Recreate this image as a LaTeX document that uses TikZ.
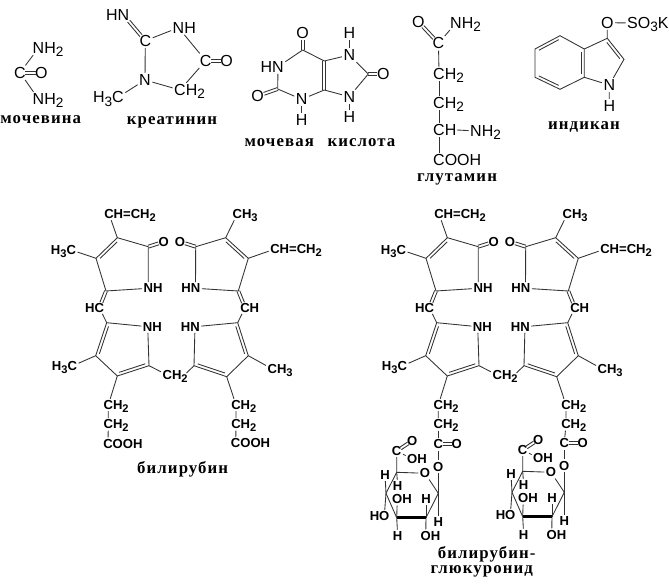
\documentclass[tikz,border=0pt]{standalone}
\usepackage{fontspec}
\setmainfont{Liberation Sans}
\newfontfamily\capfont[LetterSpace=6.5]{Liberation Serif}
\usetikzlibrary{calc}
\newcommand{\low}[1]{\smash{\raisebox{-.4ex}{\scalebox{.85}{#1}}}}
\tikzset{
  atom/.style={inner sep=1pt,font=\fontsize{9.8}{11}\selectfont\bfseries},
  big/.style={inner sep=1pt,font=\fontsize{12}{14}\selectfont},
  name text/.style={inner sep=0pt,font=\fontsize{12.6}{14}\selectfont\capfont\bfseries},
  bond/.style={draw=black!80,line width=.65pt},
  wedge/.style={draw=black,line width=2.4pt}
}
\newcommand{\ringbond}[2]{\draw[bond,shorten <=2.2pt,shorten >=2.2pt] ($(#1)!2.2pt!90:(#2)$) -- ($(#2)!2.2pt!-90:(#1)$);}
\newcommand{\dblbond}[4]{%
  \draw[bond,shorten <=#3,shorten >=#4] ($(#1)!1.1pt!90:(#2)$) -- ($(#2)!1.1pt!-90:(#1)$);
  \draw[bond,shorten <=#3,shorten >=#4] ($(#1)!1.1pt!-90:(#2)$) -- ($(#2)!1.1pt!90:(#1)$);}
\begin{document}
\begin{tikzpicture}[x=.75pt,y=-.75pt]
  \useasboundingbox (0,0) rectangle (669,585);

  %urea
  \node[big] (un1) at (38.5,48) {N\rlap{H\low{2}}};
  \node[big] (uc) at (20,72.7) {C};
  \node[big] (uo) at (41.3,72.7) {O};
  \node[big] (un2) at (38.5,99) {N\rlap{H\low{2}}};
  \draw[bond] (uc) -- (un1);
  \draw[bond] (uc) -- (un2);
  \dblbond{uc}{uo}{4pt}{4pt}
  \node[name text] (ucap) at (40.7,120) {мочевина};

  %creatinine
  \node[big] (kn1) at (123.5,15) {\llap{H}N};
  \node[big] (kc1) at (145.3,40.7) {C};
  \node[big] (kn2) at (178.5,27.7) {N\rlap{H}};
  \node[big] (kc2) at (205.7,60.7) {C};
  \node[big] (ko) at (226.7,60.7) {O};
  \node[big] (kc3) at (180,90) {C\rlap{H\low{2}}};
  \node[big] (kn3) at (145,80) {N};
  \node[big] (kc4) at (118,97.3) {\llap{H\low{3}}C};
  \dblbond{kn1}{kc1}{6pt}{5pt}
  \draw[bond] (kc1) -- (kn2);
  \draw[bond] (kn2) -- (kc2);
  \dblbond{kc2}{ko}{4pt}{4pt}
  \draw[bond] (kc2) -- (kc3);
  \draw[bond] (kc3) -- (kn3);
  \draw[bond] (kn3) -- (kc1);
  \draw[bond] (kn3) -- (kc4);
  \node[name text] (kcap) at (172,122) {креатинин};

  %uric acid
  \node[big] (mo1) at (302.7,33.3) {O};
  \coordinate (mc1) at (302.7,50);
  \coordinate (mc2) at (324.3,61);
  \coordinate (mc3) at (324.3,90);
  \node[big] (mn1) at (301.7,99.3) {N};
  \node[big] (mh1) at (301.7,120) {H};
  \coordinate (mc4) at (277.7,89);
  \node[big] (mo2) at (257.7,96) {O};
  \node[big] (mn2) at (278,66.7) {\llap{H}N};
  \node[big] (mh2) at (349.3,33.3) {H};
  \node[big] (mn3) at (349.3,55) {N};
  \coordinate (mc5) at (368.3,74);
  \node[big] (mo3) at (383.3,74) {O};
  \node[big] (mn4) at (349.3,96.7) {N};
  \node[big] (mh3) at (349.3,117.3) {H};
  \dblbond{mc1}{mo1}{0pt}{5pt}
  \dblbond{mc4}{mo2}{0pt}{5pt}
  \dblbond{mc5}{mo3}{0pt}{5pt}
  \dblbond{mc2}{mc3}{0pt}{0pt}
  \draw[bond] (mc1) -- (mc2);
  \draw[bond] (mc3) -- (mn1) -- (mc4) -- (mn2) -- (mc1);
  \draw[bond] (mn1) -- (mh1);
  \draw[bond] (mc2) -- (mn3) -- (mc5) -- (mn4) -- (mc3);
  \draw[bond] (mn3) -- (mh2);
  \draw[bond] (mn4) -- (mh3);
  \node[name text] (mcap) at (320,143) {мочевая\hspace{.5em} кислота};

  %glutamine
  \node[big] (go) at (418.3,21.7) {O};
  \node[big] (gc1) at (438.5,43.3) {C};
  \node[big] (gn1) at (456,23) {N\rlap{H\low{2}}};
  \node[big] (gc2) at (439,74) {C\rlap{H\low{2}}};
  \node[big] (gc3) at (439,103) {C\rlap{H\low{2}}};
  \node[big] (gc4) at (439,130) {C\rlap{H}};
  \coordinate (gc4h) at (457,130);
  \node[big] (gn2) at (476,131) {N\rlap{H\low{2}}};
  \node[big] (gc5) at (439,160) {C\rlap{OOH}};
  \dblbond{go}{gc1}{5pt}{5pt}
  \draw[bond] (gc1) -- (gn1);
  \draw[bond] (gc1) -- (gc2);
  \draw[bond] (gc2) -- (gc3);
  \draw[bond] (gc3) -- (gc4);
  \draw[bond] (gc4) -- (gc5);
  \draw[bond] (gc4h) -- (gn2);
  \node[name text] (gcap) at (457,179) {глутамин};

  %indican
  \node[big] (io) at (607.3,22.7) {O};
  \node[big] (is) at (632.5,23) {S\rlap{O\low{3}K}};
  \coordinate (ic3) at (607.3,38.3);
  \coordinate (ic2) at (624,59.3);
  \node[big] (in) at (609.3,85) {N};
  \node[big] (ih) at (609.3,106) {H};
  \coordinate (ia) at (584.3,77.3);
  \coordinate (ib) at (584.3,49);
  \coordinate (ic) at (560,35.7);
  \coordinate (id) at (535,49);
  \coordinate (ie) at (535,77.3);
  \coordinate (if) at (560,89.3);
  \draw[bond] (io) -- (is);
  \draw[bond] (io) -- (ic3) -- (ic2) -- (in) -- (ih);
  \draw[bond] (in) -- (ia) -- (ib) -- (ic) -- (id) -- (ie) -- (if) -- (ia);
  \draw[bond] (ib) -- (ic3);
  \ringbond{ic2}{ic3}
  \ringbond{ia}{ib}
  \ringbond{ic}{id}
  \ringbond{ie}{if}
  \node[name text] (icap) at (584,126.7) {индикан};

  %the two tetrapyrroles
  \foreach \pre/\dx in {a/0,b/330}{
    \begin{scope}[shift={(\dx,0)},name prefix=\pre-]
      \coordinate (r1) at (117.3,237.7);
      \coordinate (r2) at (148.3,246.7);
      \coordinate (r3) at (96,258.3);
      \coordinate (r4) at (106,291);
      \coordinate (r5) at (225.7,237.7);
      \coordinate (r6) at (195.7,246.7);
      \coordinate (r7) at (248.3,258.3);
      \coordinate (r8) at (238.3,291);
      \coordinate (p1) at (106.7,322.7);
      \coordinate (p2) at (95.7,355.7);
      \coordinate (p3) at (117.3,376);
      \coordinate (p4) at (149,365.7);
      \coordinate (p5) at (237.7,322.7);
      \coordinate (p6) at (248.3,355.7);
      \coordinate (p7) at (226.7,376.7);
      \coordinate (p8) at (194,365.7);
      \node[atom] (v1) at (109,214) {C\rlap{H=CH\low{2}}};
      \node[atom] (m1) at (71.3,250) {\llap{H\low{3}}C};
      \node[atom] (o1) at (163.7,241.7) {O};
      \node[atom] (n1) at (148.3,288.3) {N\rlap{H}};
      \node[atom] (hc) at (99.3,307.7) {\llap{H}C};
      \node[atom] (n2) at (147.7,326.7) {N\rlap{H}};
      \node[atom] (m2) at (72.3,366) {\llap{H\low{3}}C};
      \node[atom] (br) at (167.3,375) {C\rlap{H\low{2}}};
      \coordinate (brr) at (186.5,373);
      \node[atom] (o2) at (180,241.7) {O};
      \node[atom] (m3) at (237.3,214) {C\rlap{H\low{3}}};
      \node[atom] (v2) at (275,249) {C\rlap{H=CH\low{2}}};
      \node[atom] (n3) at (195.5,288.3) {\llap{H}N};
      \node[atom] (ch) at (245,307.7) {C\rlap{H}};
      \node[atom] (n4) at (195,326.7) {\llap{H}N};
      \node[atom] (m4) at (272.3,369) {C\rlap{H\low{3}}};
      \node[atom] (ch1) at (108.3,405) {C\rlap{H\low{2}}};
      \node[atom] (ch2) at (108.3,424.3) {C\rlap{H\low{2}}};
      \node[atom] (ch3) at (236,405) {C\rlap{H\low{2}}};
      \node[atom] (ch4) at (236,424.3) {C\rlap{H\low{2}}};
      %upper rings
      \draw[bond] (v1) -- (r1) -- (r2) -- (n1) -- (r4) -- (r3) -- (r1);
      \draw[bond] (m1) -- (r3);
      \dblbond{r2}{o1}{0pt}{4pt}
      \draw[bond] (m3) -- (r5) -- (r6) -- (n3) -- (r8) -- (r7) -- (r5);
      \draw[bond] (v2) -- (r7);
      \dblbond{r6}{o2}{0pt}{4pt}
      \ringbond{r1}{r3}
      \ringbond{r7}{r5}
      %links
      \dblbond{r4}{hc}{0pt}{4pt}
      \draw[bond] (hc) -- (p1);
      \dblbond{r8}{ch}{0pt}{4pt}
      \draw[bond] (ch) -- (p5);
      %lower rings
      \draw[bond] (m2) -- (p2) -- (p3) -- (p4) -- (n2) -- (p1) -- (p2);
      \draw[bond] (m4) -- (p6) -- (p7) -- (p8) -- (n4) -- (p5) -- (p6);
      \ringbond{p1}{p2}
      \ringbond{p3}{p4}
      \ringbond{p6}{p5}
      \ringbond{p8}{p7}
      \draw[bond] (p4) -- (br);
      \draw[bond] (brr) -- (p8);
      %side chains
      \draw[bond] (p3) -- (ch1) -- (ch2);
      \draw[bond] (p7) -- (ch3) -- (ch4);
    \end{scope}
  }
  \node[atom] (acooh1) at (108,443.7) {C\rlap{OOH}};
  \node[atom] (acooh2) at (235.7,443.3) {C\rlap{OOH}};
  \draw[bond] (a-ch2) -- (acooh1);
  \draw[bond] (a-ch4) -- (acooh2);
  \node[name text] (acap) at (182.7,469) {билирубин};

  %glucuronic acid parts
  \foreach \pre/\dx/\dy in {s/0/0,t/126/-1}{
    \begin{scope}[shift={(\dx,\dy)},name prefix=\pre-]
      \node[atom] (ec) at (438.3,444.3) {C};
      \node[atom] (eo1) at (456.7,444.3) {O};
      \node[atom] (eo2) at (438.3,466.7) {O};
      \coordinate (g1) at (438.3,493.3);
      \node[atom] (go) at (425,473.3) {O};
      \coordinate (g5) at (396.7,472.3);
      \coordinate (g4) at (386,493.3);
      \coordinate (g3) at (396.7,517.7);
      \coordinate (g2) at (426,517.7);
      \node[atom] (ac) at (396.7,451) {C};
      \node[atom] (ao1) at (412.3,440.7) {O};
      \node[atom] (ao2) at (412.3,459) {O\rlap{H}};
      \node[atom] (h5) at (397.7,486) {H};
      \node[atom] (h4) at (385,475) {H};
      \node[atom] (o3) at (397.3,499.3) {O\rlap{H}};
      \node[atom] (h2) at (426,499.3) {H};
      \node[atom] (h1) at (438.3,521.7) {H};
      \node[atom] (o4) at (384.3,516) {\llap{H}O};
      \node[atom] (h3) at (397.7,535.7) {H};
      \node[atom] (o2) at (425.7,535.7) {O\rlap{H}};
      \dblbond{ec}{eo1}{3.5pt}{3.5pt}
      \draw[bond] (ec) -- (eo2) -- (g1);
      \draw[bond] (g1) -- (g2);
      \draw[wedge] (g2) -- (g3);
      \draw[bond] (g3) -- (g4) -- (g5) -- (go) -- (g1);
      \draw[bond] (g5) -- (ac) -- (ao2);
      \dblbond{ac}{ao1}{3.5pt}{3.5pt}
      \draw[bond] (g5) -- (h5);
      \draw[bond] (g4) -- (h4);
      \draw[bond] (g4) -- (o4);
      \draw[bond] (g3) -- (o3);
      \draw[bond] (g3) -- (h3);
      \draw[bond] (g2) -- (h2);
      \draw[bond] (g2) -- (o2);
      \draw[bond] (g1) -- (h1);
    \end{scope}
  }
  \draw[bond] (b-ch2) -- (s-ec);
  \draw[bond] (b-ch4) -- (t-ec);
  \node[name text] (bcap1) at (486.7,554) {билирубин-};
  \node[name text] (bcap2) at (481.7,571) {глюкуронид};
\end{tikzpicture}
\end{document}
